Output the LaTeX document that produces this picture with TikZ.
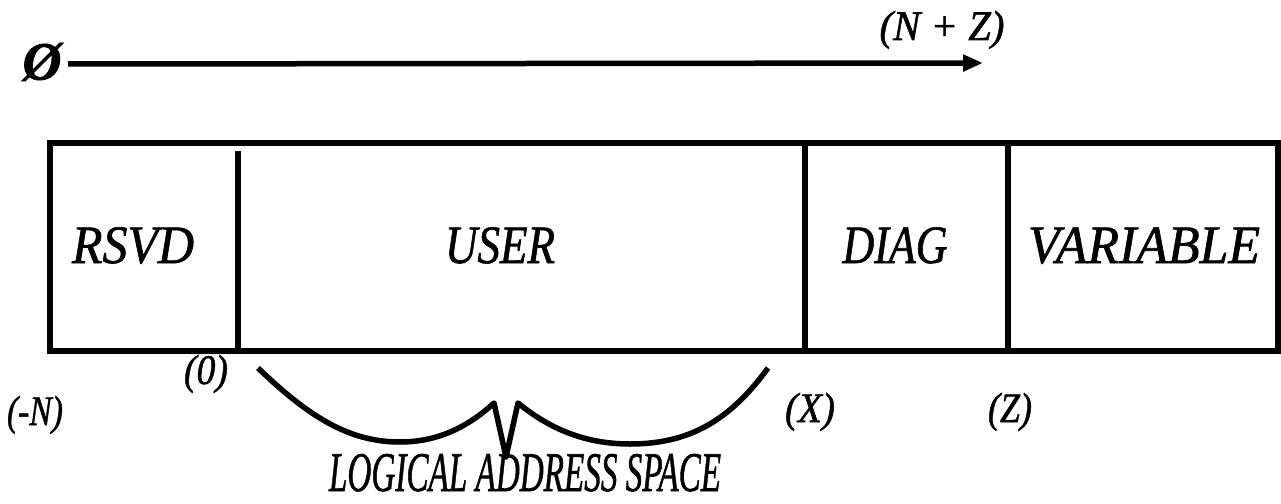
\documentclass[tikz,border=0pt]{standalone}
\usepackage{fontspec}
\setmainfont{Liberation Serif}
\newfontfamily\scanfont{Liberation Serif}[UprightFont=* Italic, BoldFont=* Bold Italic, FakeBold=1.2]
\usetikzlibrary{arrows.meta}
\tikzset{
  thick line/.style={line width=6pt, line cap=butt},
  boxlabel/.style={font=\scanfont\fontsize{54}{54}\selectfont, inner sep=0pt, anchor=base},
  addrlabel/.style={font=\scanfont\fontsize{42}{42}\selectfont, inner sep=0pt, anchor=base},
}
\begin{document}
\begin{tikzpicture}[x=1pt,y=-1pt]
\useasboundingbox (0,0) rectangle (1281,503);
% top axis
\node[font=\scanfont\bfseries\fontsize{54}{54}\selectfont, inner sep=0pt] (zero) at (42,62) {Ø};
\coordinate (axisS) at (68,64);
\coordinate (axisE) at (983,63);
\draw[line width=5.5pt, -{Triangle[length=20pt,width=16pt]}] (axisS) -- (axisE);
\node[addrlabel] (nz) at (942,40) {\resizebox{125pt}{\height}{(N + Z)}};
% memory box
\coordinate (bl) at (50,351);
\coordinate (tr) at (1278,143);
\draw[thick line, line join=miter] (bl) rectangle (tr);
\coordinate (d1t) at (238,151);
\coordinate (d1b) at (238,351);
\coordinate (d2t) at (805,143);
\coordinate (d2b) at (805,351);
\coordinate (d3t) at (1008,143);
\coordinate (d3b) at (1008,351);
\draw[line width=6.5pt] (d1t) -- (d1b);
\draw[line width=6.5pt] (d2t) -- (d2b);
\draw[line width=6.5pt] (d3t) -- (d3b);
\node[boxlabel] (rsvd) at (133,263) {\resizebox{122pt}{\height}{RSVD}};
\node[boxlabel] (user) at (500,263) {\resizebox{110pt}{\height}{USER}};
\node[boxlabel] (diag) at (895,263) {\resizebox{105pt}{\height}{DIAG}};
\node[boxlabel] (var) at (1144,263) {\resizebox{232pt}{\height}{VARIABLE}};
% address labels
\node[addrlabel] (l0) at (206,384) {\resizebox{44pt}{\height}{(0)}};
\node[addrlabel] (lN) at (35,425) {\resizebox{56pt}{\height}{(-N)}};
\node[addrlabel] (lX) at (810,422) {\resizebox{50pt}{\height}{(X)}};
\node[addrlabel] (lZ) at (1010,422) {\resizebox{44pt}{\height}{(Z)}};
% brace
\coordinate (bs) at (258,368);
\coordinate (be) at (768,368);
\draw[line width=5.5pt, line join=round]
  (bs) .. controls (310,418) and (350,442) .. (400,442)
  .. controls (440,442) and (470,425) .. (494,403)
  -- (506,457) -- (518,403)
  .. controls (545,425) and (580,444) .. (630,444)
  .. controls (690,444) and (730,420) .. (be);
\node[font=\scanfont\fontsize{56}{56}\selectfont, inner sep=0pt, anchor=base] (las) at (525,491) {\resizebox{392pt}{\height}{LOGICAL ADDRESS SPACE}};
\end{tikzpicture}
\end{document}
